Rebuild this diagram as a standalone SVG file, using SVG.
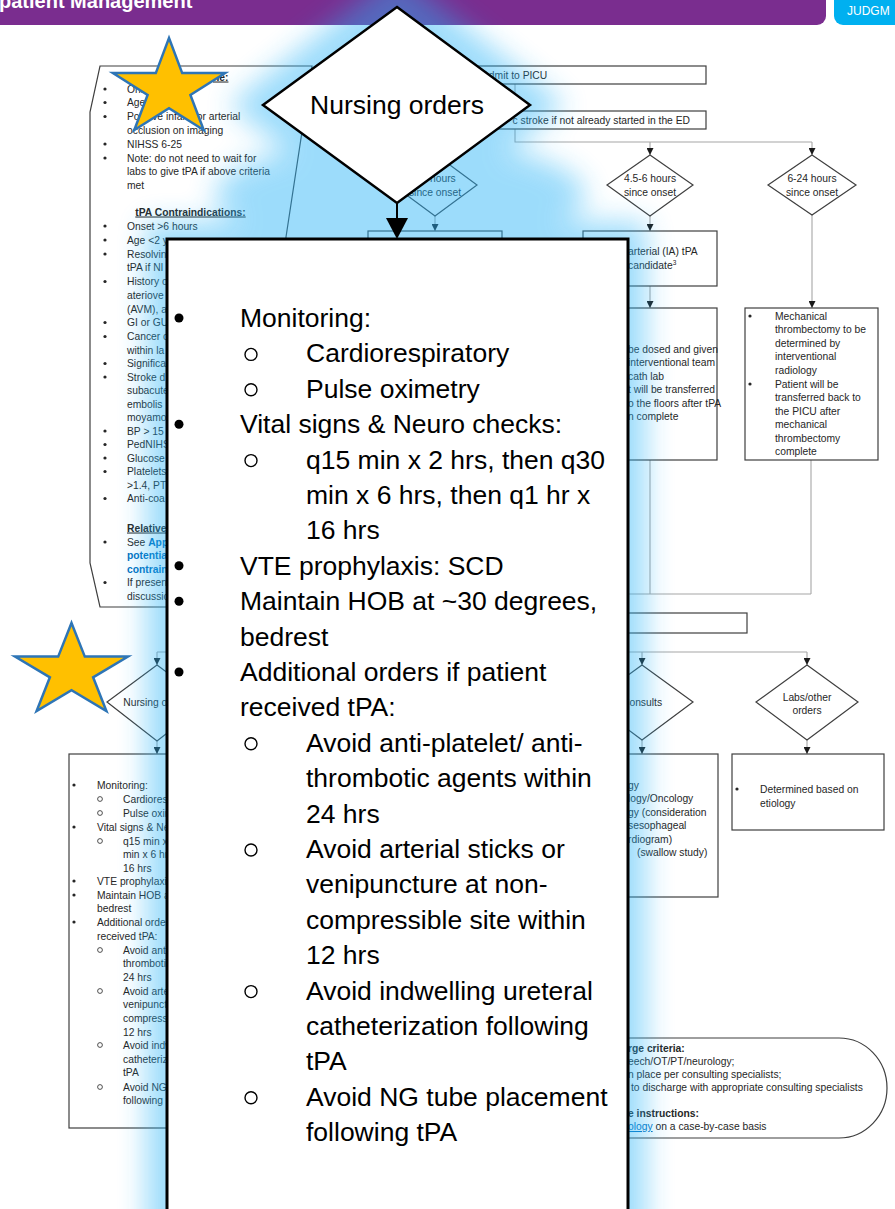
<svg xmlns="http://www.w3.org/2000/svg" width="895" height="1209" viewBox="0 0 895 1209">
<style>
.t{font-family:"Liberation Sans",Arial,sans-serif;font-size:10.3px;fill:#262626}
.c{text-anchor:middle}
.e{text-anchor:end}
.b{font-weight:bold}
.u{text-decoration:underline}
.lk{fill:#0070c0}
.box{fill:#fff;stroke:#3f3f3f;stroke-width:1.2}
.ln{fill:none;stroke:#a6a6a6;stroke-width:1.1}
.ar{fill:none;stroke:#a6a6a6;stroke-width:1.1;marker-end:url(#ah)}
.dot{fill:#262626}
.oc{fill:none;stroke:#262626;stroke-width:0.8}
.big{font-family:"Liberation Sans",Arial,sans-serif;font-size:26.5px;fill:#000}
.bd{fill:#000}
.boc{fill:none;stroke:#000;stroke-width:1.4}
.star{fill:#ffc000;stroke:#2e75b6;stroke-width:2.5}
</style>
<defs>
<marker id="ah" viewBox="0 0 10 10" refX="10" refY="5" markerWidth="7" markerHeight="7" markerUnits="userSpaceOnUse" orient="auto"><path d="M0,0L10,5L0,10z" fill="#1a1a1a"/></marker>
<filter id="glowf" x="-20%" y="-10%" width="140%" height="120%"><feGaussianBlur stdDeviation="14"/></filter>
</defs>
<rect width="895" height="1209" fill="#fff"/>

<g id="header">
<rect x="-10" y="-10" width="836" height="35" rx="9" fill="#7a2d8f"/>
<text x="-1" y="8" font-family="Liberation Sans,Arial,sans-serif" font-weight="bold" font-size="20" fill="#fff">patient Management</text>
<rect x="834" y="-10" width="80" height="35" rx="9" fill="#00b0f0"/>
<text x="847" y="15" font-family="Liberation Sans,Arial,sans-serif" font-size="12" fill="#fff">JUDGM</text>
</g>

<g id="connectors">
<path class="ln" d="M515,84V111"/>
<path class="ln" d="M515,129V142H812"/>
<path class="ar" d="M435,129V154"/>
<path class="ar" d="M650,142V155"/>
<path class="ar" d="M812,142V155"/>
<path class="ar" d="M435,216V231"/>
<path class="ar" d="M650,216V231"/>
<path class="ar" d="M650,286V308"/>
<path class="ar" d="M812,215V308"/>
<path class="ln" d="M650,460V594M811,460V594M300,594H811"/>
<path class="ln" d="M157,652H807"/>
<path class="ar" d="M157,652V665"/>
<path class="ar" d="M642,652V665"/>
<path class="ar" d="M807,652V665"/>
<path class="ar" d="M157,741V754"/>
<path class="ar" d="M642,740V754"/>
<path class="ar" d="M807,740V754"/>
</g>

<g id="node-criteria">
<path class="box" d="M100,66L312,66L286,237L280,560L270,607L100,607L90,563L90,112Z"/>
<text class="t b u" x="213" y="80.5">ne:</text>
<circle class="dot" cx="105" cy="89" r="1.6"/><text class="t" x="127" y="92.5">Ons</text>
<circle class="dot" cx="105" cy="102.5" r="1.6"/><text class="t" x="127" y="106">Age</text>
<circle class="dot" cx="105" cy="116.5" r="1.6"/><text class="t" x="127" y="120">Positive infarct or arterial</text>
<text class="t" x="127" y="134">occlusion on imaging</text>
<circle class="dot" cx="105" cy="144" r="1.6"/><text class="t" x="127" y="147.5">NIHSS 6-25</text>
<circle class="dot" cx="105" cy="158" r="1.6"/><text class="t" x="127" y="161.5">Note: do not need to wait for</text>
<text class="t" x="127" y="175">labs to give tPA if above criteria</text>
<text class="t" x="127" y="189">met</text>
<text class="t b u c" x="190.5" y="215.5">tPA Contraindications:</text>
<circle class="dot" cx="105" cy="226" r="1.6"/><text class="t" x="127" y="229.5">Onset &gt;6 hours</text>
<circle class="dot" cx="105" cy="240" r="1.6"/><text class="t" x="127" y="243.5">Age &lt;2 y</text>
<circle class="dot" cx="105" cy="254" r="1.6"/><text class="t" x="127" y="257.5">Resolvin</text>
<text class="t" x="127" y="271">tPA if NI</text>
<circle class="dot" cx="105" cy="281.5" r="1.6"/><text class="t" x="127" y="285">History o</text>
<text class="t" x="127" y="299">ateriove</text>
<text class="t" x="127" y="312.5">(AVM), a</text>
<circle class="dot" cx="105" cy="322.5" r="1.6"/><text class="t" x="127" y="326">GI or GU</text>
<circle class="dot" cx="105" cy="336.5" r="1.6"/><text class="t" x="127" y="340">Cancer o</text>
<text class="t" x="127" y="353.5">within la</text>
<circle class="dot" cx="105" cy="363.5" r="1.6"/><text class="t" x="127" y="367">Significa</text>
<circle class="dot" cx="105" cy="377" r="1.6"/><text class="t" x="127" y="380.5">Stroke d</text>
<text class="t" x="127" y="394">subacute</text>
<text class="t" x="127" y="407.5">embolis</text>
<text class="t" x="127" y="421">moyamo</text>
<circle class="dot" cx="105" cy="431" r="1.6"/><text class="t" x="127" y="434.5">BP &gt; 15</text>
<circle class="dot" cx="105" cy="444.5" r="1.6"/><text class="t" x="127" y="448">PedNIHS</text>
<circle class="dot" cx="105" cy="458" r="1.6"/><text class="t" x="127" y="461.5">Glucose</text>
<circle class="dot" cx="105" cy="471.5" r="1.6"/><text class="t" x="127" y="475">Platelets</text>
<text class="t" x="127" y="488.5">&gt;1.4, PT</text>
<circle class="dot" cx="105" cy="498.5" r="1.6"/><text class="t" x="127" y="502">Anti-coa</text>
<text class="t b u" x="127" y="531.5">Relative</text>
<circle class="dot" cx="105" cy="542" r="1.6"/><text class="t" x="127" y="545.5">See <tspan class="lk b">App</tspan></text>
<text class="t lk b" x="127" y="559">potentia</text>
<text class="t lk b" x="127" y="572.5">contrain</text>
<circle class="dot" cx="105" cy="582.5" r="1.6"/><text class="t" x="127" y="586">If presen</text>
<text class="t" x="127" y="599.5">discussio</text>
</g>

<g id="node-admit">
<rect class="box" x="330" y="66" width="376" height="18"/>
<text class="t" x="482" y="78.5">Admit to PICU</text>
</g>
<g id="node-stroke">
<rect class="box" x="320" y="111" width="386" height="18"/>
<text class="t e" x="690" y="123.5">c stroke if not already started in the ED</text>
</g>
<g id="node-lt45">
<polygon class="box" points="435,154 477,185 435,216 393,185"/>
<text class="t" x="430" y="181.5">hours</text>
<text class="t c" x="435" y="195.5">since onset</text>
</g>
<g id="node-45-6">
<polygon class="box" points="650,155 693,185 650,216 607,185"/>
<text class="t c" x="650" y="181.5">4.5-6 hours</text>
<text class="t c" x="650" y="195.5">since onset</text>
</g>
<g id="node-6-24">
<polygon class="box" points="812,155 856,185 812,215 768,185"/>
<text class="t c" x="812" y="181.5">6-24 hours</text>
<text class="t c" x="812" y="195.5">since onset</text>
</g>
<g id="node-lt45-box">
<rect class="box" x="368" y="231" width="134" height="60"/>
</g>
<g id="node-ia">
<rect class="box" x="583" y="231" width="134" height="55"/>
<text class="t" x="628" y="254.5">arterial (IA) tPA</text>
<text class="t" x="628" y="268.5">candidate<tspan font-size="6.5" dy="-4">3</tspan></text>
</g>
<g id="node-ia-details">
<rect class="box" x="583" y="308" width="134" height="152"/>
<text class="t" x="628" y="352.5">be dosed and given</text>
<text class="t" x="628" y="366">interventional team</text>
<text class="t" x="628" y="379.5">cath lab</text>
<text class="t" x="628" y="393">t will be transferred</text>
<text class="t" x="628" y="406.5">o the floors after tPA</text>
<text class="t" x="628" y="420">n complete</text>
</g>
<g id="node-mech">
<rect class="box" x="745" y="308" width="133" height="152"/>
<circle class="dot" cx="750" cy="316" r="1.6"/>
<text class="t" x="775" y="319.5">Mechanical</text>
<text class="t" x="775" y="333">thrombectomy to be</text>
<text class="t" x="775" y="346.5">determined by</text>
<text class="t" x="775" y="360">interventional</text>
<text class="t" x="775" y="373.5">radiology</text>
<circle class="dot" cx="750" cy="384" r="1.6"/>
<text class="t" x="775" y="387.5">Patient will be</text>
<text class="t" x="775" y="401">transferred back to</text>
<text class="t" x="775" y="414.5">the PICU after</text>
<text class="t" x="775" y="428">mechanical</text>
<text class="t" x="775" y="441.5">thrombectomy</text>
<text class="t" x="775" y="455">complete</text>
</g>
<g id="node-wide">
<rect class="box" x="200" y="613" width="547" height="20"/>
</g>
<g id="node-nursing-small">
<polygon class="box" points="157,665 207,702 157,741 107,702"/>
<text class="t c" x="157" y="705.5">Nursing orders</text>
</g>
<g id="node-consults">
<polygon class="box" points="642,665 693,702 642,740 591,702"/>
<text class="t c" x="642" y="705.5">Consults</text>
</g>
<g id="node-labs">
<polygon class="box" points="807,665 858,702 807,740 756,702"/>
<text class="t c" x="807" y="700.5">Labs/other</text>
<text class="t c" x="807" y="713.5">orders</text>
</g>
<g id="node-nursing-box">
<rect class="box" x="69" y="754" width="230" height="374"/>
<circle class="dot" cx="74" cy="785" r="1.6"/><text class="t" x="97" y="788.5">Monitoring:</text>
<circle class="oc" cx="100" cy="799" r="2.4"/><text class="t" x="123" y="802.5">Cardiorespiratory</text>
<circle class="oc" cx="100" cy="813" r="2.4"/><text class="t" x="123" y="816.5">Pulse oximetry</text>
<circle class="dot" cx="74" cy="827" r="1.6"/><text class="t" x="97" y="830.5">Vital signs &amp; Neuro checks:</text>
<circle class="oc" cx="100" cy="841" r="2.4"/><text class="t" x="123" y="844.5">q15 min x 2 hrs, then q30</text>
<text class="t" x="123" y="857.5">min x 6 hrs, then q1 hr x</text>
<text class="t" x="123" y="871.5">16 hrs</text>
<circle class="dot" cx="74" cy="881" r="1.6"/><text class="t" x="97" y="884.5">VTE prophylaxis: SCD</text>
<circle class="dot" cx="74" cy="895" r="1.6"/><text class="t" x="97" y="898.5">Maintain HOB at ~30 degrees,</text>
<text class="t" x="97" y="911.5">bedrest</text>
<circle class="dot" cx="74" cy="922" r="1.6"/><text class="t" x="97" y="925.5">Additional orders if patient</text>
<text class="t" x="97" y="939.5">received tPA:</text>
<circle class="oc" cx="100" cy="950" r="2.4"/><text class="t" x="123" y="953.5">Avoid anti-platelet/ anti-</text>
<text class="t" x="123" y="966.5">thrombotic agents within</text>
<text class="t" x="123" y="980.5">24 hrs</text>
<circle class="oc" cx="100" cy="991" r="2.4"/><text class="t" x="123" y="994.5">Avoid arterial sticks or</text>
<text class="t" x="123" y="1007.5">venipuncture at non-</text>
<text class="t" x="123" y="1021.5">compressible site within</text>
<text class="t" x="123" y="1035.5">12 hrs</text>
<circle class="oc" cx="100" cy="1045" r="2.4"/><text class="t" x="123" y="1048.5">Avoid indwelling ureteral</text>
<text class="t" x="123" y="1062.5">catheterization following</text>
<text class="t" x="123" y="1075.5">tPA</text>
<circle class="oc" cx="100" cy="1087" r="2.4"/><text class="t" x="123" y="1090.5">Avoid NG tube placement</text>
<text class="t" x="123" y="1103.5">following tPA</text>
</g>
<g id="node-consults-box">
<rect class="box" x="560" y="754" width="158" height="143"/>
<text class="t" x="628" y="788.5">gy</text>
<text class="t" x="628" y="801.5">logy/Oncology</text>
<text class="t" x="628" y="815.5">gy (consideration</text>
<text class="t" x="628" y="828.5">sesophageal</text>
<text class="t" x="628" y="842.5">rdiogram)</text>
<text class="t" x="637" y="855.5">(swallow study)</text>
</g>
<g id="node-labs-box">
<rect class="box" x="732" y="754" width="152" height="76"/>
<circle class="dot" cx="737" cy="789" r="1.6"/>
<text class="t" x="760" y="792.5">Determined based on</text>
<text class="t" x="760" y="806.5">etiology</text>
</g>
<g id="node-discharge">
<path class="box" d="M560,1038H839A48,50 0 0 1 839,1138H560A48,50 0 0 1 560,1038Z"/>
<text class="t b" x="628" y="1052">rge criteria:</text>
<text class="t" x="628" y="1065">eech/OT/PT/neurology;</text>
<text class="t" x="628" y="1078">n place per consulting specialists;</text>
<text class="t" x="631" y="1091">to discharge with appropriate consulting specialists</text>
<text class="t b" x="628" y="1117">e instructions:</text>
<text class="t" x="628" y="1130"><tspan class="lk u">ology</tspan> on a case-by-case basis</text>
</g>

<g id="glow" filter="url(#glowf)" opacity="0.45" fill="#28b2f7">
<polygon points="397,-28 565,105 397,238 229,105"/>
<ellipse cx="400" cy="195" rx="185" ry="55"/>
<rect x="146" y="222" width="500" height="1110"/>
</g>

<g id="star-1"><polygon class="star" points="169,38 182.2,73.1 225.1,73.1 190.4,94.9 203.7,130 169,108.3 134.3,130 147.6,94.9 112.9,73.1 155.8,73.1"/></g>
<g id="star-2"><polygon class="star" points="71.5,623 84.8,656.6 128,656.6 93.1,677.3 106.4,711 71.5,690.2 36.6,711 49.9,677.3 15,656.6 58.2,656.6"/></g>

<g id="popup">
<rect x="167" y="239" width="461" height="1000" fill="#fff" stroke="#000" stroke-width="3"/>
<circle class="bd" cx="179" cy="318" r="4.5"/><text class="big" x="240" y="327">Monitoring:</text>
<circle class="boc" cx="251" cy="354.4" r="6"/><text class="big" x="306" y="362.4">Cardiorespiratory</text>
<circle class="boc" cx="251" cy="389.8" r="6"/><text class="big" x="306" y="397.8">Pulse oximetry</text>
<circle class="bd" cx="179" cy="424.2" r="4.5"/><text class="big" x="240" y="433.2">Vital signs &amp; Neuro checks:</text>
<circle class="boc" cx="251" cy="460.6" r="6"/><text class="big" x="306" y="468.6">q15 min x 2 hrs, then q30</text>
<text class="big" x="306" y="504">min x 6 hrs, then q1 hr x</text>
<text class="big" x="306" y="539.4">16 hrs</text>
<circle class="bd" cx="179" cy="565.8" r="4.5"/><text class="big" x="240" y="574.8">VTE prophylaxis: SCD</text>
<circle class="bd" cx="179" cy="601.2" r="4.5"/><text class="big" x="240" y="610.2">Maintain HOB at ~30 degrees,</text>
<text class="big" x="240" y="645.6">bedrest</text>
<circle class="bd" cx="179" cy="672" r="4.5"/><text class="big" x="240" y="681">Additional orders if patient</text>
<text class="big" x="240" y="716.4">received tPA:</text>
<circle class="boc" cx="251" cy="743.8" r="6"/><text class="big" x="306" y="751.8">Avoid anti-platelet/ anti-</text>
<text class="big" x="306" y="787.2">thrombotic agents within</text>
<text class="big" x="306" y="822.6">24 hrs</text>
<circle class="boc" cx="251" cy="850" r="6"/><text class="big" x="306" y="858">Avoid arterial sticks or</text>
<text class="big" x="306" y="893.4">venipuncture at non-</text>
<text class="big" x="306" y="928.8">compressible site within</text>
<text class="big" x="306" y="964.2">12 hrs</text>
<circle class="boc" cx="251" cy="991.6" r="6"/><text class="big" x="306" y="999.6">Avoid indwelling ureteral</text>
<text class="big" x="306" y="1035">catheterization following</text>
<text class="big" x="306" y="1070.4">tPA</text>
<circle class="boc" cx="251" cy="1097.8" r="6"/><text class="big" x="306" y="1105.8">Avoid NG tube placement</text>
<text class="big" x="306" y="1141.2">following tPA</text>
</g>

<g id="popup-arrow">
<path d="M397,203V219" stroke="#000" stroke-width="2" fill="none"/>
<polygon points="386,218 408,218 397,239" fill="#000"/>
</g>
<g id="node-nursing-big">
<polygon points="397,7 530,105 397,203 263,105" fill="#fff" stroke="#000" stroke-width="2.5"/>
<text class="big" x="397" y="114" text-anchor="middle">Nursing orders</text>
</g>
</svg>
